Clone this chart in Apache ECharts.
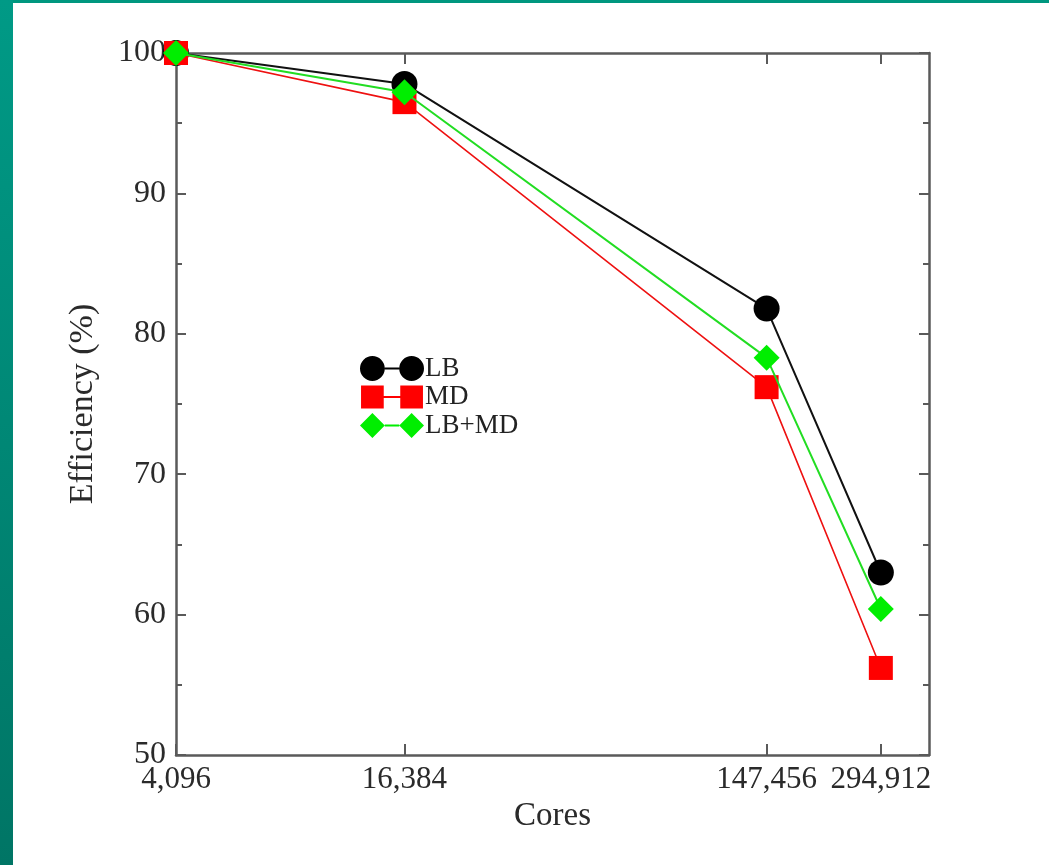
<!DOCTYPE html>
<html>
<head>
<meta charset="utf-8">
<script src="https://cdn.jsdelivr.net/npm/echarts@6/dist/echarts.min.js"></script>
<style>
  html, body { margin: 0; padding: 0; background: #ffffff; }
  #chart { position: absolute; left: 0; top: 0; width: 1049px; height: 865px; }
  #topbar { position: absolute; left: 0; top: 0; width: 1049px; height: 3px; background: #00977f; z-index: 5; }
  #leftbar { position: absolute; left: 0; top: 0; width: 13px; height: 865px; background: linear-gradient(#009a86, #007565); z-index: 5; }
</style>
</head>
<body>
<div id="chart"></div>
<div id="topbar"></div>
<div id="leftbar"></div>
<script>
// ---- data ----
const cores = [4096, 16384, 147456, 294912];
const coreLabels = ['4,096', '16,384', '147,456', '294,912'];
const lb = [100, 97.8, 81.8, 63.0];
const md = [100, 96.5, 76.2, 56.2];
const lbmd = [100, 97.2, 78.3, 60.4];
const seriesNames = ['LB', 'MD', 'LB+MD'];
const yTicks = [50, 60, 70, 80, 90, 100];

const pairs = arr => cores.map((c, i) => [c, arr[i]]);
const labelMap = {};
cores.forEach((c, i) => { labelMap[c] = coreLabels[i]; });

const serif = '"Liberation Serif", "DejaVu Serif", serif';
const frame = '#5a5a5a';

const iconCircle = 'path://M0 12 A12 12 0 1 0 24 12 A12 12 0 1 0 0 12 Z M38 12 A12 12 0 1 0 62 12 A12 12 0 1 0 38 12 Z M24 11 L38 11 L38 13 L24 13 Z';
const iconSquare = 'path://M1 1 L23 1 L23 23 L1 23 Z M39 1 L61 1 L61 23 L39 23 Z M23 11 L39 11 L39 13 L23 13 Z M0 0 L0 0.01 L0.01 0.01 Z M62 24 L62 23.99 L61.99 23.99 Z';
const iconDiamond = 'path://M0 12 L12 0 L24 12 L12 24 Z M38 12 L50 0 L62 12 L50 24 Z M24 11 L38 11 L38 13 L24 13 Z';

const xAxisBase = {
  type: 'log',
  logBase: 2,
  min: 4096,
  max: 395000,
  axisLine: { show: true, lineStyle: { color: frame, width: 2.5 } },
  splitLine: { show: false },
  minorTick: { show: false }
};
const yAxisBase = {
  type: 'value',
  min: 50,
  max: 100,
  interval: 10,
  axisLine: { show: true, lineStyle: { color: frame, width: 2.5 } },
  splitLine: { show: false },
  axisTick: { show: true, inside: true, length: 10, lineStyle: { color: frame, width: 2 } },
  minorTick: { show: true, splitNumber: 2, length: 6, lineStyle: { color: frame, width: 2 } }
};

const chart = echarts.init(document.getElementById('chart'), null, { renderer: 'canvas' });
chart.setOption({
  backgroundColor: '#ffffff',
  animation: false,
  grid: { left: 176, right: 120, top: 53, bottom: 110, containLabel: false },
  legend: {
    orient: 'vertical',
    left: 355,
    top: 350,
    itemWidth: 64,
    itemHeight: 25,
    itemGap: 1.5,
    symbolKeepAspect: false,
    itemStyle: { borderWidth: 0 },
    textStyle: { fontFamily: serif, fontSize: 27, color: '#222', padding: [0, 0, 0, -4] },
    data: [
      { name: seriesNames[0], icon: iconCircle },
      { name: seriesNames[1], icon: iconSquare },
      { name: seriesNames[2], icon: iconDiamond }
    ]
  },
  xAxis: [
    Object.assign({}, xAxisBase, {
      position: 'bottom',
      name: 'Cores',
      nameLocation: 'middle',
      nameGap: 42,
      nameTextStyle: { fontFamily: serif, fontSize: 33, color: '#2a2a2a' },
      axisTick: { show: true, inside: true, length: 11, customValues: cores, lineStyle: { color: frame, width: 2 } },
      axisLabel: {
        show: true, margin: 9, customValues: cores,
        fontFamily: serif, fontSize: 31, color: '#2a2a2a',
        formatter: v => labelMap[Math.round(v)] || ''
      }
    }),
    Object.assign({}, xAxisBase, {
      position: 'top',
      axisTick: { show: true, inside: true, length: 11, customValues: cores, lineStyle: { color: frame, width: 2 } },
      axisLabel: { show: false }
    })
  ],
  yAxis: [
    Object.assign({}, yAxisBase, {
      position: 'left',
      name: 'Efficiency (%)',
      nameLocation: 'middle',
      nameGap: 76,
      nameRotate: 90,
      nameTextStyle: { fontFamily: serif, fontSize: 34, color: '#2a2a2a' },
      axisLabel: { show: true, margin: 10, fontFamily: serif, fontSize: 32, color: '#2a2a2a',
        formatter: v => (yTicks.indexOf(v) >= 0 ? String(v) : '') }
    }),
    Object.assign({}, yAxisBase, {
      position: 'right',
      axisLabel: { show: false }
    })
  ],
  series: [
    {
      name: seriesNames[0], type: 'line', data: pairs(lb),
      symbol: 'circle', symbolSize: 26,
      itemStyle: { color: '#000000', borderWidth: 0 },
      lineStyle: { color: '#111111', width: 2 },
      z: 3
    },
    {
      name: seriesNames[1], type: 'line', data: pairs(md),
      symbol: 'rect', symbolSize: 24,
      itemStyle: { color: '#ff0000', borderWidth: 0 },
      lineStyle: { color: '#ee1111', width: 1.6 },
      z: 4
    },
    {
      name: seriesNames[2], type: 'line', data: pairs(lbmd),
      symbol: 'diamond', symbolSize: 26,
      itemStyle: { color: '#00ee00', borderWidth: 0 },
      lineStyle: { color: '#22dd22', width: 2 },
      z: 5
    }
  ]
});
</script>
</body>
</html>
